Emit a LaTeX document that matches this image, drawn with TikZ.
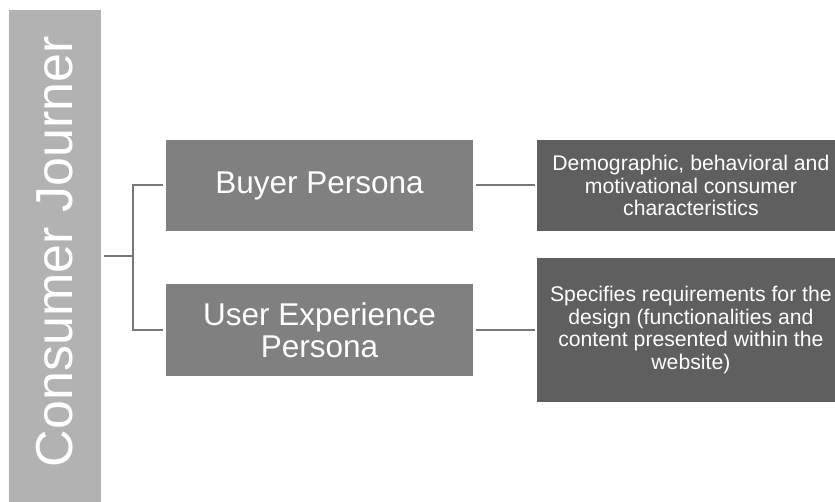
\documentclass[tikz,border=0pt]{standalone}
\usepackage{fontspec}
\setmainfont{Liberation Sans}
\definecolor{cjBar}{RGB}{178,178,178}
\definecolor{cjMid}{RGB}{128,128,128}
\definecolor{cjDark}{RGB}{95,95,95}
\definecolor{cjLine}{RGB}{120,120,120}
\begin{document}
\begin{tikzpicture}[x=1pt,y=-1pt,
  rootbar/.style={fill=cjBar, draw=none, inner sep=0pt,
    minimum width=91.7pt, minimum height=492pt},
  roottext/.style={rotate=90, anchor=base, inner sep=0pt, text=white,
    font=\fontsize{52}{52}\selectfont},
  persona/.style={fill=cjMid, draw=none, text=white, align=center,
    inner sep=0pt, minimum width=307.6pt,
    font=\fontsize{31.5}{32.3}\selectfont},
  detail/.style={fill=cjDark, draw=none, text=white, align=center,
    inner sep=0pt, minimum width=307.2pt,
    font=\fontsize{21.2}{22.5}\selectfont},
  conn/.style={draw=cjLine, line width=2pt}]
\useasboundingbox (0,0) rectangle (835,502);
\clip (0,0) rectangle (835,502);

% left bar with the rotated title
\node[rootbar] (root) at (54.85,256) {};
\node[roottext] (title) at (72,251.7) {Consumer Journer};

% the two personas
\node[persona, minimum height=91pt] (buyer) at (319.5,185.5) {Buyer Persona};
\node[persona, minimum height=92pt] (ux) at (319.5,330) {User Experience\\Persona};

% their descriptions
\node[detail, minimum height=91pt] (buyerd) at (690.9,185.5)
  {Demographic, behavioral and\\motivational consumer\\characteristics};
\node[detail, minimum height=143.4pt] (uxd) at (690.9,330)
  {Specifies requirements for the\\design (functionalities and\\content presented within the\\website)};

% bracket from the bar to the personas
\draw[conn, shorten <=3.3pt] (root.east) -- ++(32.3,0) coordinate (fork);
\draw[conn, shorten >=2.7pt] (fork) |- (buyer.west);
\draw[conn, shorten >=2.7pt] (fork) |- (ux.west);

% links from each persona to its description
\draw[conn, shorten <=2.7pt, shorten >=2.3pt] (buyer.east) -- (buyerd.west);
\draw[conn, shorten <=2.7pt, shorten >=2.3pt] (ux.east) -- (uxd.west);
\end{tikzpicture}
\end{document}
